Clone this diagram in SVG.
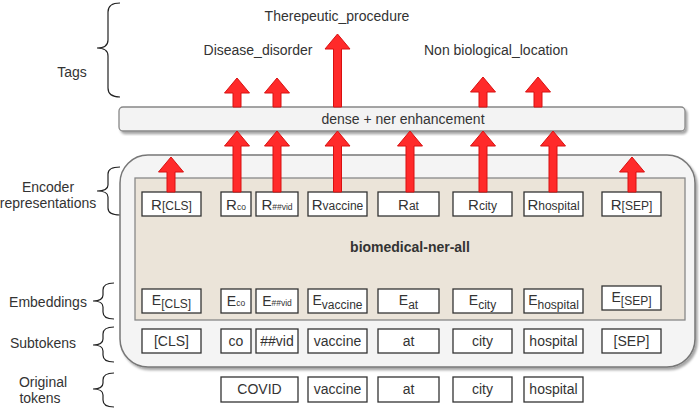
<svg xmlns="http://www.w3.org/2000/svg" width="700" height="413" viewBox="0 0 700 413">
<defs>
<filter id="sh" x="-5%" y="-20%" width="110%" height="140%">
<feDropShadow dx="2" dy="2.5" stdDeviation="1.2" flood-color="#000" flood-opacity="0.35"/>
</filter>
<style>
text{font-family:"Liberation Sans",Arial,sans-serif;fill:#333;}
.lbl{font-size:14px;text-anchor:middle;}
.tok{font-size:14px;text-anchor:middle;}
.box{fill:#fff;stroke:#333;stroke-width:1.3;}
.arr{fill:#ff2a2a;stroke:#d81010;stroke-width:1;}
.brace{fill:none;stroke:#222;stroke-width:1.2;}
.b{font-size:15px;}
.s{font-size:12px;}
.t{font-size:8.5px;}
</style>
</defs>

<g id="labels">
<text class="lbl" x="72" y="77">Tags</text>
<text class="lbl" x="48" y="192">Encoder</text>
<text class="lbl" x="48" y="208">representations</text>
<text class="lbl" x="48" y="307">Embeddings</text>
<text class="lbl" x="43" y="348">Subtokens</text>
<text class="lbl" x="43" y="387">Original</text>
<text class="lbl" x="40" y="403">tokens</text>
</g>

<g id="braces">
<path class="brace" d="M120 3 Q108 3 108 12 V40 Q108 48 97 48 Q108 48 108 56 V88 Q108 97 120 97"/>
<path class="brace" d="M120 167 Q108 167 108 174 V185 Q108 191 97 191 Q108 191 108 197 V208 Q108 215 120 215"/>
<path class="brace" d="M114 283 Q103 283 103 290 V295 Q103 301 93 301 Q103 301 103 307 V312 Q103 319 114 319"/>
<path class="brace" d="M114 327 Q103 327 103 334 V339 Q103 345 93 345 Q103 345 103 351 V355 Q103 362 114 362"/>
<path class="brace" d="M114 373 Q103 373 103 380 V383 Q103 389 93 389 Q103 389 103 395 V400 Q103 407 114 407"/>
</g>

<g id="container">
<rect x="120" y="155" width="575" height="212" rx="28" fill="#f4f4f4" stroke="#777" stroke-width="1.5" filter="url(#sh)"/>
</g>

<g id="encoder">
<rect x="135" y="178" width="550" height="142" fill="#ebe4d9" stroke="#888" stroke-width="1.3"/>
<text x="410" y="252" font-size="14" font-weight="bold" text-anchor="middle">biomedical-ner-all</text>
</g>

<g id="dense">
<rect x="119" y="107" width="566" height="24" rx="4" fill="#f3f3f3" stroke="#888" stroke-width="1.3" filter="url(#sh)"/>
<text class="tok" x="403" y="124">dense + ner enhancement</text>
</g>

<g id="tags">
<text class="lbl" x="337" y="21">Therepeutic_procedure</text>
<text class="lbl" x="258" y="55">Disease_disorder</text>
<text class="lbl" x="496" y="55">Non biological_location</text>
</g>

<g id="rrow">
<rect class="box" x="142" y="192" width="59" height="24"/>
<text class="tok" x="171.5" y="210"><tspan class="b">R</tspan><tspan class="s">[CLS]</tspan></text>
<rect class="box" x="221" y="192" width="30" height="24"/>
<text class="tok" x="236" y="210"><tspan class="b">R</tspan><tspan class="t">co</tspan></text>
<rect class="box" x="256" y="192" width="42" height="24"/>
<text class="tok" x="277" y="210"><tspan class="b">R</tspan><tspan class="t">##vid</tspan></text>
<rect class="box" x="308" y="192" width="59" height="24"/>
<text class="tok" x="337.5" y="210"><tspan class="b">R</tspan><tspan class="s">vaccine</tspan></text>
<rect class="box" x="378" y="192" width="61" height="24"/>
<text class="tok" x="408.5" y="210"><tspan class="b">R</tspan><tspan class="s">at</tspan></text>
<rect class="box" x="453" y="192" width="59" height="24"/>
<text class="tok" x="482.5" y="210"><tspan class="b">R</tspan><tspan class="s">city</tspan></text>
<rect class="box" x="524" y="192" width="59" height="24"/>
<text class="tok" x="553.5" y="210"><tspan class="b">R</tspan><tspan class="s">hospital</tspan></text>
<rect class="box" x="602" y="192" width="59" height="24"/>
<text class="tok" x="631.5" y="210"><tspan class="b">R</tspan><tspan class="s">[SEP]</tspan></text>
</g>

<g id="erow">
<rect class="box" x="142" y="289" width="59" height="24"/>
<text class="tok" x="171.5" y="305">E<tspan class="s" dy="3">[CLS]</tspan></text>
<rect class="box" x="221" y="289" width="30" height="24"/>
<text class="tok" x="236" y="306">E<tspan class="t">co</tspan></text>
<rect class="box" x="256" y="289" width="42" height="24"/>
<text class="tok" x="277" y="306">E<tspan class="t">##vid</tspan></text>
<rect class="box" x="308" y="289" width="59" height="24"/>
<text class="tok" x="337.5" y="305">E<tspan class="s" dy="4">vaccine</tspan></text>
<rect class="box" x="378" y="289" width="61" height="24"/>
<text class="tok" x="408.5" y="305">E<tspan class="s" dy="4">at</tspan></text>
<rect class="box" x="453" y="289" width="59" height="24"/>
<text class="tok" x="482.5" y="305">E<tspan class="s" dy="4">city</tspan></text>
<rect class="box" x="524" y="289" width="59" height="24"/>
<text class="tok" x="553.5" y="305">E<tspan class="s" dy="4">hospital</tspan></text>
<rect class="box" x="602" y="286" width="59" height="24"/>
<text class="tok" x="631.5" y="302">E<tspan class="s" dy="3">[SEP]</tspan></text>
</g>

<g id="subtokens">
<rect class="box" x="142" y="329" width="59" height="24"/>
<text class="tok" x="171.5" y="346">[CLS]</text>
<rect class="box" x="221" y="329" width="30" height="24"/>
<text class="tok" x="236" y="346">co</text>
<rect class="box" x="256" y="329" width="42" height="24"/>
<text class="tok" x="277" y="346">##vid</text>
<rect class="box" x="308" y="329" width="59" height="24"/>
<text class="tok" x="337.5" y="346">vaccine</text>
<rect class="box" x="378" y="329" width="61" height="24"/>
<text class="tok" x="408.5" y="346">at</text>
<rect class="box" x="453" y="329" width="59" height="24"/>
<text class="tok" x="482.5" y="346">city</text>
<rect class="box" x="524" y="329" width="59" height="24"/>
<text class="tok" x="553.5" y="346">hospital</text>
<rect class="box" x="602" y="329" width="59" height="24"/>
<text class="tok" x="631.5" y="346">[SEP]</text>
</g>

<g id="original">
<rect class="box" x="221" y="377" width="77" height="25"/>
<text class="tok" x="259.5" y="394">COVID</text>
<rect class="box" x="308" y="377" width="59" height="25"/>
<text class="tok" x="337.5" y="394">vaccine</text>
<rect class="box" x="378" y="377" width="61" height="25"/>
<text class="tok" x="408.5" y="394">at</text>
<rect class="box" x="453" y="377" width="59" height="25"/>
<text class="tok" x="482.5" y="394">city</text>
<rect class="box" x="524" y="377" width="59" height="25"/>
<text class="tok" x="553.5" y="394">hospital</text>
</g>

<g id="connectors">
<path class="arr" d="M167 192 V172 H158.5 L171 157 L183.5 172 H175 V192 Z"/>
<path class="arr" d="M628 192 V172 H619.5 L632 157 L644.5 172 H636 V192 Z"/>
<path class="arr" d="M233 192 V146 H224.5 L237 131 L249.5 146 H241 V192 Z"/>
<path class="arr" d="M273 192 V146 H264.5 L277 131 L289.5 146 H281 V192 Z"/>
<path class="arr" d="M333.5 192 V146 H325 L337.5 131 L350 146 H341.5 V192 Z"/>
<path class="arr" d="M406 192 V146 H397.5 L410 131 L422.5 146 H414 V192 Z"/>
<path class="arr" d="M479 192 V146 H470.5 L483 131 L495.5 146 H487 V192 Z"/>
<path class="arr" d="M549 192 V146 H540.5 L553 131 L565.5 146 H557 V192 Z"/>
<path class="arr" d="M233 107 V93 H224.5 L237 78 L249.5 93 H241 V107 Z"/>
<path class="arr" d="M273 107 V93 H264.5 L277 78 L289.5 93 H281 V107 Z"/>
<path class="arr" d="M479 107 V92 H470.5 L483 77 L495.5 92 H487 V107 Z"/>
<path class="arr" d="M534 107 V92 H525.5 L538 77 L550.5 92 H542 V107 Z"/>
<path class="arr" d="M333.5 107 V49 H325 L337.5 34 L350 49 H341.5 V107 Z"/>
</g>
</svg>
